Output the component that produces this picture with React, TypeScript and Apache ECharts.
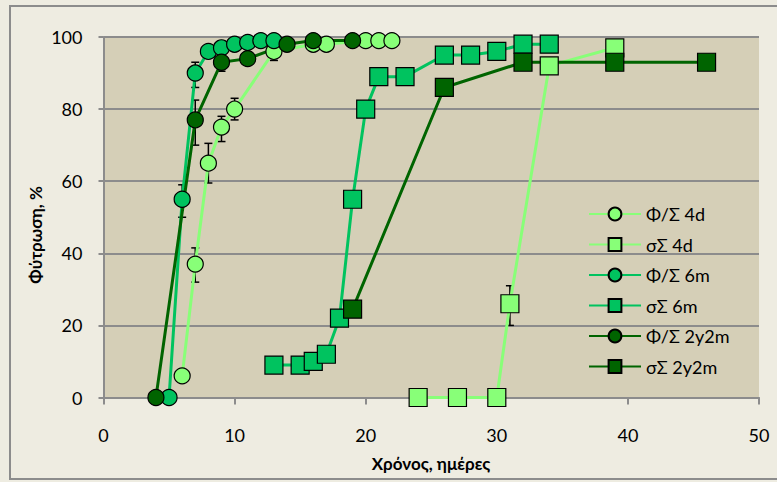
import React, { useEffect, useRef } from "react";
import * as echarts from "echarts";

const seriesNames = ["Φ/Σ 4d", "σΣ 4d", "Φ/Σ 6m", "σΣ 6m", "Φ/Σ 2y2m", "σΣ 2y2m"];

const phi4d = [[6, 6], [7, 37], [8, 65], [9, 75], [10, 80], [13, 96], [16, 98], [17, 98], [20, 99], [21, 99], [22, 99]];
const sigma4d = [[24, 0], [27, 0], [30, 0], [31, 26], [34, 92], [39, 97]];
const phi6m = [[5, 0], [6, 55], [7, 90], [8, 96], [9, 97], [10, 98], [11, 98.5], [12, 99], [13, 99]];
const sigma6m = [[13, 9], [15, 9], [16, 10], [17, 12], [18, 22], [19, 55], [20, 80], [21, 89], [23, 89], [26, 95], [28, 95], [30, 96], [32, 98], [34, 98]];
const phi2y2m = [[4, 0], [7, 77], [9, 93], [11, 94], [14, 98], [16, 99], [19, 99]];
const sigma2y2m = [[19, 24.5], [26, 86], [32, 93], [39, 93], [46, 93]];

// error bars: [x, low, high]
const errorBars = [
  [7, 32, 41.5], [8, 59.5, 70.5], [9, 71, 78], [10, 77, 83], [13, 93.5, 98],
  [6, 50, 59], [7, 86, 93],
  [7, 70, 82.5], [9, 90.5, 95.5],
  [31, 20, 31],
];

const xTicks = { min: 0, max: 50, interval: 10 };
const yTicks = { min: 0, max: 100, interval: 20 };

const LIGHT = "#88FF78";
const MID = "#00C35F";
const DARK = "#006400";
const FONT = "Lato";

export default function App() {
  const ref = useRef<HTMLDivElement>(null);
  useEffect(() => {
    if (!ref.current) return;
    const chart = echarts.init(ref.current, null, { renderer: "svg" });
    const mk = (name: string, data: number[][], color: string, symbol: string, size: number) => ({
      name,
      type: "line",
      data,
      symbol,
      symbolSize: size,
      z: 3,
      lineStyle: { color, width: 3 },
      itemStyle: { color, borderColor: "#000", borderWidth: 1.2 },
      emphasis: { disabled: true },
    });
    chart.setOption({
      animation: false,
      backgroundColor: "#EEECE1",
      textStyle: { fontFamily: FONT },
      grid: {
        left: 103.5,
        right: 18,
        top: 37,
        bottom: 84.5,
        show: true,
        backgroundColor: "#D5CFB7",
        borderWidth: 0,
      },
      xAxis: {
        type: "value",
        min: xTicks.min,
        max: xTicks.max,
        interval: xTicks.interval,
        axisLine: { show: true, lineStyle: { color: "#8C8C8C", width: 2 } },
        axisTick: { show: true, length: 7, lineStyle: { color: "#8C8C8C", width: 2 } },
        axisLabel: { color: "#000", fontSize: 18, fontFamily: FONT, margin: 28 },
        splitLine: { show: false },
      },
      yAxis: {
        type: "value",
        min: yTicks.min,
        max: yTicks.max,
        interval: yTicks.interval,
        axisLine: { show: true, lineStyle: { color: "#8C8C8C", width: 2 } },
        axisTick: { show: true, length: 5, lineStyle: { color: "#8C8C8C", width: 2 } },
        axisLabel: { color: "#000", fontSize: 18, fontFamily: FONT, margin: 21 },
        splitLine: { show: true, lineStyle: { color: "#8C8C8C", width: 2 } },
      },
      legend: {
        orient: "vertical",
        left: 583,
        top: 200,
        data: seriesNames,
        itemWidth: 52,
        itemHeight: 16,
        itemGap: 12.5,
        textStyle: { color: "#000", fontSize: 18, fontFamily: FONT },
        lineStyle: { width: 2 },
      },
      graphic: [
        {
          type: "rect",
          shape: { x: 10, y: 6, width: 770, height: 473 },
          style: { fill: "none", stroke: "#8C8C8C", lineWidth: 2 },
          silent: true,
        },
        {
          type: "text",
          x: 35,
          y: 235,
          rotation: Math.PI / 2,
          style: {
            text: "Φύτρωση, %",
            font: `bold 17px ${FONT}`,
            fill: "#000",
            textAlign: "center",
            textVerticalAlign: "middle",
          },
        },
        {
          type: "text",
          x: 431,
          y: 463,
          style: {
            text: "Χρόνος, ημέρες",
            font: `bold 17px ${FONT}`,
            fill: "#000",
            textAlign: "center",
            textVerticalAlign: "middle",
          },
        },
      ],
      series: [
        {
          name: "errors",
          type: "custom",
          z: 2,
          data: errorBars,
          encode: { x: 0, y: [1, 2] },
          renderItem: (params: any, api: any) => {
            const x = api.value(0);
            const lo = api.coord([x, api.value(1)]);
            const hi = api.coord([x, api.value(2)]);
            const w = 4;
            const st = { stroke: "#000", lineWidth: 1.5 };
            return {
              type: "group",
              children: [
                { type: "line", shape: { x1: lo[0], y1: lo[1], x2: hi[0], y2: hi[1] }, style: st },
                { type: "line", shape: { x1: lo[0] - w, y1: lo[1], x2: lo[0] + w, y2: lo[1] }, style: st },
                { type: "line", shape: { x1: hi[0] - w, y1: hi[1], x2: hi[0] + w, y2: hi[1] }, style: st },
              ],
            };
          },
        },
        mk(seriesNames[0], phi4d, LIGHT, "circle", 16),
        mk(seriesNames[1], sigma4d, LIGHT, "rect", 18),
        mk(seriesNames[2], phi6m, MID, "circle", 16),
        mk(seriesNames[3], sigma6m, MID, "rect", 18),
        mk(seriesNames[4], phi2y2m, DARK, "circle", 16),
        mk(seriesNames[5], sigma2y2m, DARK, "rect", 18),
      ],
    });
    return () => chart.dispose();
  }, []);
  return (
    <div
      ref={ref}
      style={{ position: "fixed", left: 0, top: 0, width: 777, height: 482 }}
    />
  );
}
